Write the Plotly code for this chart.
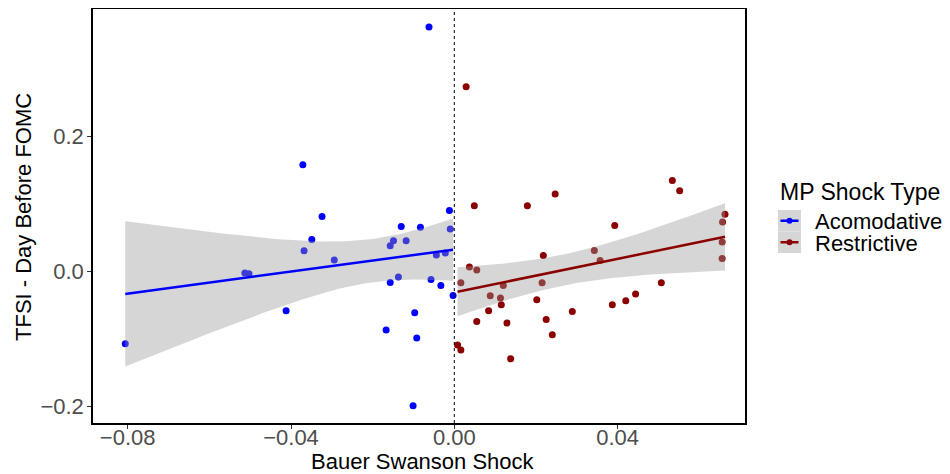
import numpy as np
import plotly.graph_objects as go

# Accommodative (negative) shocks
acc_x = [-0.0806, -0.0513, -0.0503, -0.0412, -0.0371, -0.0368, -0.0349, -0.0324, -0.0294,
         -0.0167, -0.0157, -0.0157, -0.0149, -0.0137, -0.0130, -0.0118, -0.0101, -0.0097,
         -0.0092, -0.0083, -0.0062, -0.0057, -0.0044, -0.0033, -0.0022, -0.0012, -0.0010, -0.0003]
acc_y = [-0.1067, -0.0020, -0.0030, -0.0578, 0.1585, 0.0311, 0.0479, 0.0819, 0.0173,
         -0.0864, 0.0385, -0.0158, 0.0459, -0.0079, 0.0671, 0.0459, -0.1985, -0.0607,
         -0.0983, 0.0657, 0.3625, -0.0114, 0.0247, -0.0203, 0.0277, 0.0908, 0.0632, -0.0351]

# Restrictive (positive) shocks
res_x = [0.0008, 0.0016, 0.0016, 0.0029, 0.0037, 0.0049, 0.0055, 0.0055, 0.0084, 0.0088,
         0.0113, 0.0115, 0.0120, 0.0129, 0.0138, 0.0179, 0.0202, 0.0215, 0.0218, 0.0225,
         0.0240, 0.0247, 0.0289, 0.0343, 0.0357, 0.0387, 0.0393, 0.0420, 0.0444, 0.0507,
         0.0534, 0.0552, 0.0656, 0.0656, 0.0657, 0.0663]
res_y = [-0.1086, -0.1160, -0.0163, 0.2740, 0.0069, 0.0978, 0.0025, -0.0736, -0.0578, -0.0356,
         -0.0390, -0.0489, -0.0203, -0.0760, -0.1290, 0.0978, -0.0415, -0.0163, 0.0242, -0.0707,
         -0.0933, 0.1150, -0.0588, 0.0316, 0.0165, -0.0489, 0.0686, -0.0430, -0.0331, -0.0163,
         0.1353, 0.1200, 0.0440, 0.0197, 0.0736, 0.0850]

series_names = ["Acomodative", "Restrictive"]
series_colors = ["#0000FF", "#8B0000"]
legend_title = "MP Shock Type"
x_title = "Bauer Swanson Shock"
y_title = "TFSI - Day Before FOMC"

x_ticks = [-0.08, -0.04, 0.0, 0.04]
y_ticks = [-0.2, 0.0, 0.2]

CI_LEVEL = 0.90

FONT = "Liberation Sans, Arial, sans-serif"
OFF = 8  # default page body margin
W, H = 942, 466
L, R, T, B = 85, 205, 1, 51
PW, PH = W - L - R, H - T - B


def px(xs):
    # screen x -> paper
    return (xs - OFF - L) / PW


def py(ys):
    # screen y -> paper
    return (H - B - (ys - OFF)) / PH


def t_quantile(p, df):
    from math import sqrt, log
    c = [-7.784894002430293e-03, -3.223964580411365e-01, -2.400758277161838e+00,
         -2.549732539343734e+00, 4.374664141464968e+00, 2.938163982698783e+00]
    d = [7.784695709041462e-03, 3.224671290700398e-01, 2.445134137142996e+00,
         3.754408661907416e+00]
    q = sqrt(-2 * log(1 - p))
    z = -(((((c[0]*q+c[1])*q+c[2])*q+c[3])*q+c[4])*q+c[5]) / ((((d[0]*q+d[1])*q+d[2])*q+d[3])*q+1)
    g1 = (z**3 + z) / 4
    g2 = (5*z**5 + 16*z**3 + 3*z) / 96
    g3 = (3*z**7 + 19*z**5 + 17*z**3 - 15*z) / 384
    return z + g1/df + g2/df**2 + g3/df**3


def lm_fit(xs, ys, level, n_grid=80):
    x = np.array(xs)
    y = np.array(ys)
    n = len(x)
    X = np.column_stack([np.ones(n), x])
    beta, *_ = np.linalg.lstsq(X, y, rcond=None)
    resid = y - X @ beta
    s2 = resid @ resid / (n - 2)
    cov = s2 * np.linalg.inv(X.T @ X)
    g = np.linspace(x.min(), x.max(), n_grid)
    G = np.column_stack([np.ones(n_grid), g])
    fit = G @ beta
    se = np.sqrt(np.einsum("ij,jk,ik->i", G, cov, G))
    t = t_quantile(1 - (1 - level) / 2, n - 2)
    return g, fit, fit - t * se, fit + t * se


groups = [(acc_x, acc_y, series_names[0], series_colors[0]),
          (res_x, res_y, series_names[1], series_colors[1])]

fig = go.Figure()

for xs, ys, name, col in groups:
    fig.add_trace(go.Scatter(x=xs, y=ys, mode="markers",
                             marker=dict(color=col, size=7, line=dict(width=0)),
                             showlegend=False, hoverinfo="skip"))

for xs, ys, name, col in groups:
    g, fit, lo, hi = lm_fit(xs, ys, CI_LEVEL)
    fig.add_trace(go.Scatter(x=np.concatenate([g, g[::-1]]),
                             y=np.concatenate([hi, lo[::-1]]),
                             mode="lines", fill="toself", line=dict(width=0),
                             fillcolor="rgba(153,153,153,0.4)",
                             showlegend=False, hoverinfo="skip"))
    fig.add_trace(go.Scatter(x=g, y=fit, mode="lines", line=dict(color=col, width=2.5),
                             showlegend=False, hoverinfo="skip"))

fig.add_vline(x=0, line=dict(color="black", width=1, dash="dot"))

annotations = [
    dict(text=x_title, xref="paper", yref="paper", x=px(423), y=py(461),
         xanchor="center", yanchor="middle", showarrow=False,
         font=dict(family=FONT, size=22, color="black")),
    dict(text=y_title, xref="paper", yref="paper", x=px(23), y=py(217),
         xanchor="center", yanchor="middle", showarrow=False, textangle=-90,
         font=dict(family=FONT, size=22, color="black")),
    dict(text=legend_title, xref="paper", yref="paper", x=px(778), y=py(192),
         xanchor="left", yanchor="middle", showarrow=False,
         font=dict(family=FONT, size=23, color="black")),
]
shapes = []
key_top = 210
key_h = 21.5
for i, (name, col) in enumerate(zip(series_names, series_colors)):
    y0 = key_top + i * key_h
    yc = y0 + key_h / 2
    shapes.append(dict(type="rect", xref="paper", yref="paper",
                       x0=px(778), x1=px(801), y0=py(y0 + key_h), y1=py(y0),
                       fillcolor="#D6D6D6", line=dict(width=0)))
    shapes.append(dict(type="line", xref="paper", yref="paper",
                       x0=px(780.5), x1=px(798.5), y0=py(yc), y1=py(yc),
                       line=dict(color=col, width=2.5)))
    shapes.append(dict(type="circle", xref="paper", yref="paper",
                       x0=px(786.5), x1=px(792.5), y0=py(yc + 3), y1=py(yc - 3),
                       fillcolor=col, line=dict(width=0)))
    annotations.append(dict(text=name, xref="paper", yref="paper", x=px(813), y=py(yc + 1),
                            xanchor="left", yanchor="middle", showarrow=False,
                            font=dict(family=FONT, size=22, color="black")))

fig.update_layout(
    width=W, height=H,
    margin=dict(l=L, r=R, t=T, b=B, pad=0),
    paper_bgcolor="white", plot_bgcolor="white",
    font=dict(family=FONT, size=22, color="black"),
    showlegend=False,
    annotations=annotations,
)
for s in shapes:
    fig.add_shape(**s)

fig.update_xaxes(range=[-0.0885, 0.0712], tickvals=x_ticks, tickformat=".2f",
                 showgrid=False, zeroline=False, showline=True, linecolor="black",
                 linewidth=1.5, mirror=True, ticks="outside", ticklen=4, tickcolor="#333333",
                 tickfont=dict(family=FONT, size=22, color="#4D4D4D"), automargin=False,
                 ticklabelstandoff=-10)
fig.update_yaxes(range=[-0.2241, 0.3892], tickvals=y_ticks, tickformat=".1f",
                 showgrid=False, zeroline=False, showline=True, linecolor="black",
                 linewidth=1.5, mirror=True, ticks="outside", ticklen=4, tickcolor="#333333",
                 tickfont=dict(family=FONT, size=22, color="#4D4D4D"), automargin=False,
                 ticklabelstandoff=-1)

fig.write_html("out.html")
